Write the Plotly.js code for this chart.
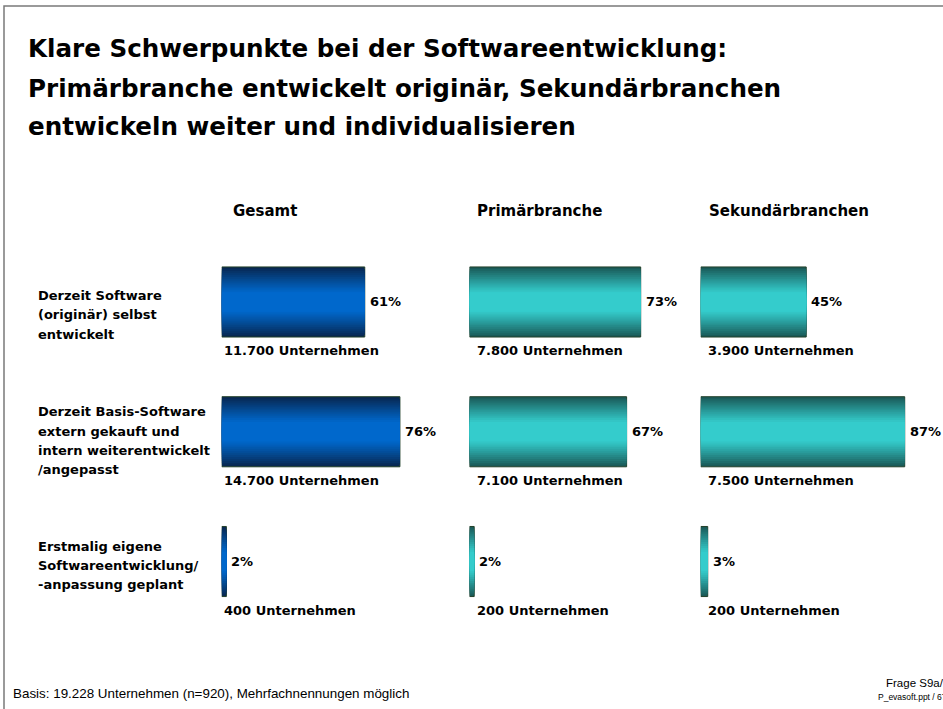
<!DOCTYPE html>
<html>
<head>
<meta charset="utf-8">
<script src="https://cdn.plot.ly/plotly-3.0.1.min.js"></script>
<style>html,body{margin:0;padding:0;background:#fff;}#chart{width:943px;height:709px;}</style>
</head>
<body>
<div id="chart"></div>
<script>
// ---------- data ----------
const titleLines = [
  'Klare Schwerpunkte bei der Softwareentwicklung:',
  'Primärbranche entwickelt originär, Sekundärbranchen',
  'entwickeln weiter und individualisieren'
];
const panelNames = ['Gesamt', 'Primärbranche', 'Sekundärbranchen'];
const rowLabels = [
  ['Derzeit Software', '(originär) selbst', 'entwickelt'],
  ['Derzeit Basis-Software', 'extern gekauft und', 'intern weiterentwickelt', '/angepasst'],
  ['Erstmalig eigene', 'Softwareentwicklung/', '-anpassung geplant']
];
const gesamtPct = [61, 76, 2];
const primaerPct = [73, 67, 2];
const sekundaerPct = [45, 87, 3];
const gesamtCount = [11700, 14700, 400];
const primaerCount = [7800, 7100, 200];
const sekundaerCount = [3900, 7500, 200];
const footerText = 'Basis: 19.228 Unternehmen (n=920), Mehrfachnennungen möglich';
const frageText = 'Frage S9a/b';
const fileText = 'P_evasoft.ppt / 67';

// ---------- styling ----------
const W = 943, H = 709;
const px = v => v / W;
const py = v => 1 - v / H;
const BOLD = 'DejaVu Sans';
const panels = [
  {pct: gesamtPct, cnt: gesamtCount, ax: 'x', x0: 221.7, dark: [8, 40, 82], light: [0, 104, 204], cntShift: 0, head: 231},
  {pct: primaerPct, cnt: primaerCount, ax: 'x2', x0: 469.5, dark: [26, 90, 88], light: [52, 204, 204], cntShift: 5, head: 475},
  {pct: sekundaerPct, cnt: sekundaerCount, ax: 'x3', x0: 700.7, dark: [26, 90, 88], light: [52, 204, 204], cntShift: 5, head: 707}
];
const pxPerPct = 2.345;
const rowIdx = [0, 1, 2];
const barW = 0.54;
const NL = 18;

function fmt(n) { return String(n).replace(/\B(?=(\d{3})+(?!\d))/g, '.'); }
function mix(a, b, t) {
  return 'rgb(' + a.map((v, i) => Math.round(v + (b[i] - v) * t)).join(',') + ')';
}

const traces = [];
panels.forEach(p => {
  for (let k = 0; k < NL; k++) {
    const d = 1 - k / NL;              // distance from centre (1 = edge)
    let g = Math.max(0, Math.min(1, (d - 0.28) / 0.72));
    g = Math.pow(g, 1.1);
    traces.push({
      type: 'bar', orientation: 'h',
      x: p.pct, y: rowIdx,
      xaxis: p.ax, yaxis: 'y',
      width: barW * d,
      marker: {color: mix(p.light, p.dark, g),
               line: {color: k === 0 ? '#22402a' : 'rgba(0,0,0,0)', width: k === 0 ? 1 : 0}},
      hoverinfo: 'skip', showlegend: false
    });
  }
});

const ann = [];
const font = (size, fam, weight, color) => ({size: size, family: fam, weight: weight || 'normal', color: color || '#000'});
// title lines
const titleY = [48, 88, 127];
titleLines.forEach((t, i) => ann.push({
  text: t, xref: 'paper', yref: 'paper', x: px(26), y: py(titleY[i]),
  xanchor: 'left', yanchor: 'middle', showarrow: false, font: font(24.6, BOLD, 'bold')
}));
// panel headers
panels.forEach((p, i) => ann.push({
  text: panelNames[i], xref: 'paper', yref: 'paper', x: px(p.head), y: py(211),
  xanchor: 'left', yanchor: 'middle', showarrow: false, font: font(15, BOLD, 'bold')
}));
// row labels
const rowShift = [13, 9, 4];
const lineGap = 19.3;
rowLabels.forEach((lines, r) => {
  const n = lines.length;
  lines.forEach((l, j) => ann.push({
    text: l, xref: 'paper', yref: 'y', x: px(36), y: r,
    yshift: -(rowShift[r] + (j - (n - 1) / 2) * lineGap),
    xanchor: 'left', yanchor: 'middle', showarrow: false, font: font(13, BOLD, 'bold')
  }));
});
// value labels + counts
panels.forEach(p => {
  p.pct.forEach((v, r) => {
    ann.push({text: v + '%', xref: p.ax, yref: 'y', x: v, y: r, xshift: 3,
      xanchor: 'left', yanchor: 'middle', showarrow: false, font: font(13, BOLD, 'bold')});
    ann.push({text: fmt(p.cnt[r]) + ' Unternehmen', xref: p.ax, yref: 'y', x: 0, y: r,
      xshift: p.cntShift, yshift: -49,
      xanchor: 'left', yanchor: 'middle', showarrow: false, font: font(13, BOLD, 'bold')});
  });
});
// footer
ann.push({text: footerText, xref: 'paper', yref: 'paper', x: px(11), y: py(693),
  xanchor: 'left', yanchor: 'middle', showarrow: false, font: font(13.4, 'Liberation Sans')});
ann.push({text: frageText, xref: 'paper', yref: 'paper', x: px(884), y: py(683),
  xanchor: 'left', yanchor: 'middle', showarrow: false, font: font(11.5, 'Liberation Sans')});
ann.push({text: fileText, xref: 'paper', yref: 'paper', x: px(876), y: py(697),
  xanchor: 'left', yanchor: 'middle', showarrow: false, font: font(8.5, 'Liberation Sans Narrow, Liberation Sans')});

const hiddenX = (d) => ({domain: d, range: [0, 100], visible: false, showgrid: false, zeroline: false, fixedrange: true, anchor: 'y'});
const dom = p => [px(p.x0), px(p.x0 + 100 * pxPerPct)];

const layout = {
  width: W, height: H,
  margin: {l: 0, r: 0, t: 0, b: 0, pad: 0},
  paper_bgcolor: '#fff', plot_bgcolor: 'rgba(0,0,0,0)',
  barmode: 'overlay', showlegend: false,
  xaxis: hiddenX(dom(panels[0])),
  xaxis2: hiddenX(dom(panels[1])),
  xaxis3: hiddenX(dom(panels[2])),
  yaxis: {domain: [py(626.4), py(237.1)], range: [2.5, -0.5], visible: false, showgrid: false, zeroline: false, fixedrange: true},
  annotations: ann,
  shapes: [{type: 'rect', xref: 'paper', yref: 'paper', x0: px(4), x1: 1.2, y0: -0.2, y1: py(6),
            line: {color: '#7a7a7a', width: 1.5}, fillcolor: 'rgba(0,0,0,0)', layer: 'below'}]
};

Plotly.newPlot('chart', traces, layout, {staticPlot: true, displayModeBar: false});
</script>
</body>
</html>
